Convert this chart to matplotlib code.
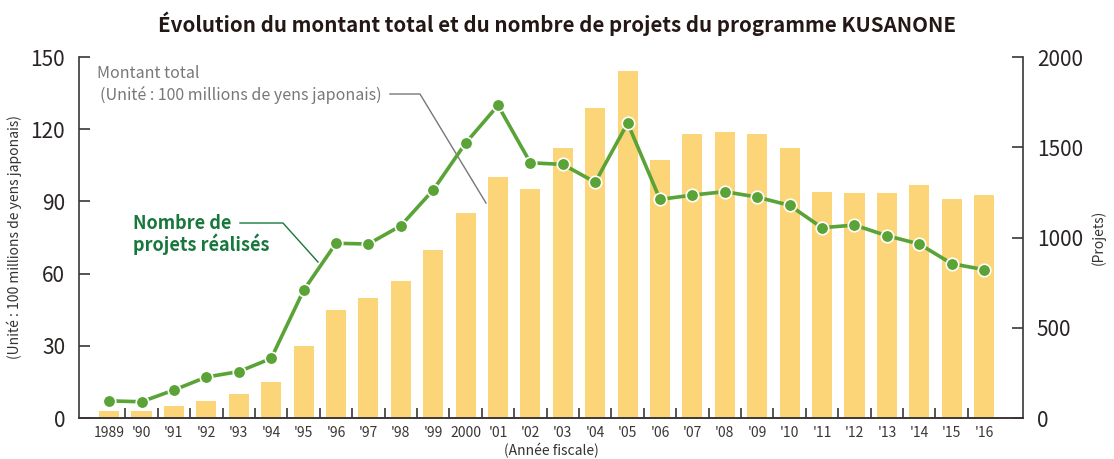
import numpy as np
import matplotlib
matplotlib.use("Agg")
import matplotlib.pyplot as plt

plt.rcParams['font.family'] = ['Noto Sans CJK JP', 'DejaVu Sans']

# données
years = ['1989', "'90", "'91", "'92", "'93", "'94", "'95", "'96", "'97", "'98", "'99", '2000',
         "'01", "'02", "'03", "'04", "'05", "'06", "'07", "'08", "'09", "'10", "'11", "'12",
         "'13", "'14", "'15", "'16"]
montant = [3, 3, 5, 7, 10, 15, 30, 45, 50, 57, 70, 85,
           100, 95, 112, 129, 144, 107, 118, 119, 118, 112, 94, 93.5,
           93.5, 97, 91, 92.5]
projets = [95, 90, 155, 227, 257, 330, 707, 968, 964, 1065, 1263, 1523,
           1732, 1414, 1405, 1306, 1634, 1211, 1235, 1254, 1224, 1178, 1054, 1069,
           1010, 964, 855, 822]

bar_color = '#fbd578'
line_color = '#5aa336'
axis_color = '#3c3636'
green_txt = '#18773c'
gray_txt = '#777777'

x = np.arange(len(years))

fig = plt.figure(figsize=(11.14, 4.59), dpi=100)
ax = fig.add_axes([0.0709, 0.0893, 0.8474, 0.7865])
ax.bar(x, montant, width=0.62, color=bar_color, zorder=1)
ax.set_xlim(-0.93, len(years) - 1 + 1.2)
ax.set_ylim(0, 150)
ax.set_yticks([0, 30, 60, 90, 120, 150])

ax2 = ax.twinx()
ax2.plot(x, projets, color=line_color, lw=2.6, marker='o', ms=9,
         markerfacecolor=line_color, markeredgecolor='white', markeredgewidth=1.2, zorder=3)
ax2.set_ylim(0, 2000)
ax2.set_yticks([0, 500, 1000, 1500, 2000])

for a in (ax, ax2):
    a.spines['top'].set_visible(False)
    for s in ('left', 'right', 'bottom'):
        a.spines[s].set_color(axis_color)
        a.spines[s].set_linewidth(1.2)
    a.tick_params(axis='y', direction='in', length=8, width=1.2, color=axis_color,
                  labelsize=15, labelcolor='#2a2424', pad=10)
ax.spines['right'].set_visible(False)
ax2.spines['left'].set_visible(False)

ax.set_xticks(x)
ax.set_xticklabels(years, fontsize=10, color='#3c3636')
ax.set_xticks(x[:-1] + 0.5, minor=True)
ax.tick_params(axis='x', which='major', length=0, pad=6)
ax.tick_params(axis='x', which='minor', direction='in', length=7, width=1.2, color=axis_color)

ax.set_ylabel('(Unité : 100 millions de yens japonais)', fontsize=10, color='#333333', labelpad=6)
ax2.set_ylabel('(Projets)', fontsize=10, color='#333333', labelpad=6)
ax.set_xlabel('(Année fiscale)', fontsize=10, color='#333333', labelpad=2)

fig.suptitle('Évolution du montant total et du nombre de projets du programme KUSANONE',
             fontsize=14.8, fontweight='bold', color='#231815', y=0.975)

# annotations
def fx(px):
    return (px - 79) / 944.0

def fy(py):
    return (418 - py) / 361.0

ax2.text(fx(97), fy(73), 'Montant total', transform=ax2.transAxes, fontsize=11.5,
         color=gray_txt, va='center', ha='left')
ax2.text(fx(100), fy(95), '(Unité : 100 millions de yens japonais)', transform=ax2.transAxes,
         fontsize=11.5, color=gray_txt, va='center', ha='left')
ax2.plot([fx(390), fx(420), fx(486)], [fy(94), fy(94), fy(203)], transform=ax2.transAxes,
         color='#777777', lw=1.0, zorder=2)

ax2.text(fx(133), fy(223), 'Nombre de', transform=ax2.transAxes, fontsize=13,
         fontweight='bold', color=green_txt, va='center', ha='left')
ax2.text(fx(133), fy(244), 'projets réalisés', transform=ax2.transAxes, fontsize=13,
         fontweight='bold', color=green_txt, va='center', ha='left')
ax2.plot([fx(240), fx(283), fx(318)], [fy(223), fy(223), fy(262)], transform=ax2.transAxes,
         color=green_txt, lw=1.0, zorder=2)

fig.savefig('out.png', dpi=100)
